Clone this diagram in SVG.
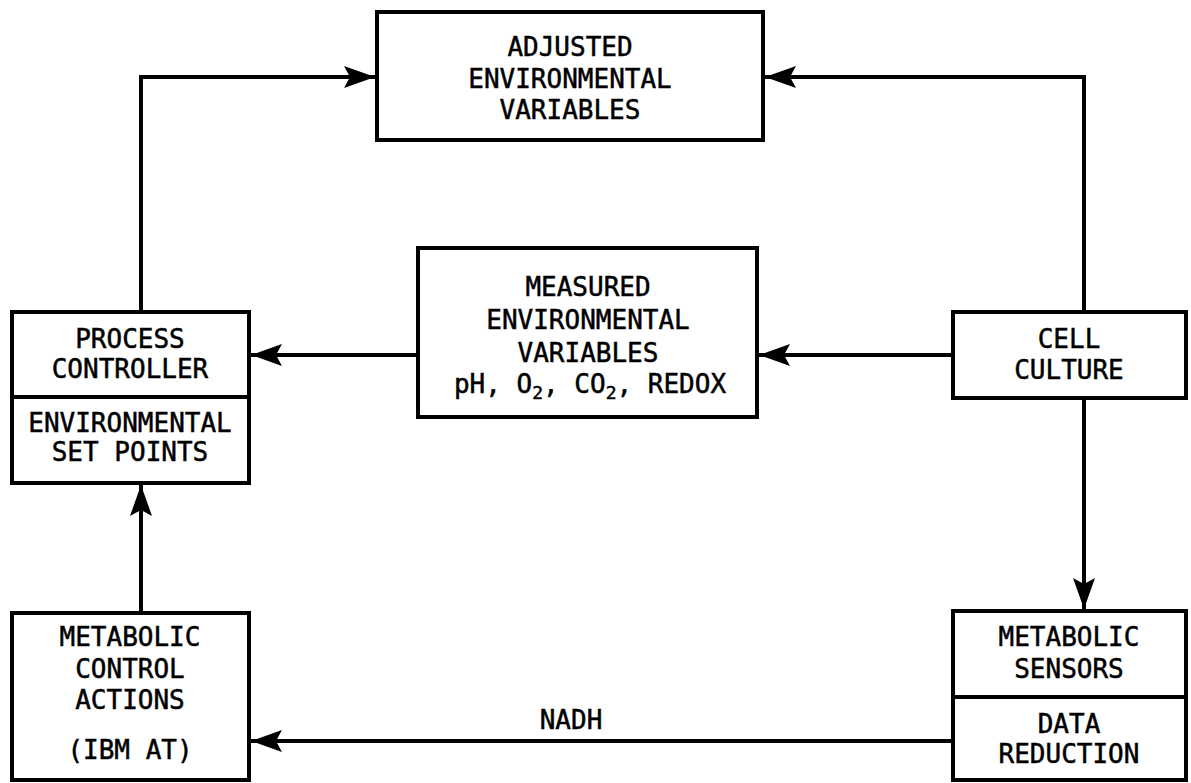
<svg xmlns="http://www.w3.org/2000/svg" width="1191" height="783" viewBox="0 0 1191 783">
<style>
.box{fill:#fff;stroke:#000;stroke-width:4}
.ln{fill:none;stroke:#000;stroke-width:4}
text{font-family:"DejaVu Sans Mono","Liberation Mono",monospace;font-size:26px;fill:#000;stroke:#000;stroke-width:0.5;text-anchor:middle}
.sub{font-size:18px}
</style>
<defs>
<marker id="ah" markerUnits="userSpaceOnUse" markerWidth="32" markerHeight="24" viewBox="-32 -12 32 24" refX="0" refY="0" orient="auto">
<path d="M0,0 L-31,-11 L-25,0 L-31,11 Z" fill="#000"/>
</marker>
</defs>
<g id="connectors">
<path class="ln" d="M141,312 V77 H375" marker-end="url(#ah)"/>
<path class="ln" d="M1084,312 V77 H765" marker-end="url(#ah)"/>
<path class="ln" d="M418,355 H251" marker-end="url(#ah)"/>
<path class="ln" d="M953,355 H759" marker-end="url(#ah)"/>
<path class="ln" d="M1084,398 V609" marker-end="url(#ah)"/>
<path class="ln" d="M141,613 V485" marker-end="url(#ah)"/>
<path class="ln" d="M953,741 H251" marker-end="url(#ah)"/>
<text x="571" y="729">NADH</text>
</g>
<g id="adjusted">
<rect class="box" x="377" y="12" width="386" height="128"/>
<text x="570" y="56">ADJUSTED</text>
<text x="570" y="88">ENVIRONMENTAL</text>
<text x="570" y="119">VARIABLES</text>
</g>
<g id="measured">
<rect class="box" x="418" y="248" width="339" height="169"/>
<text x="588" y="296">MEASURED</text>
<text x="588" y="329">ENVIRONMENTAL</text>
<text x="588" y="362">VARIABLES</text>
<text x="590" y="393">pH, O<tspan class="sub" dy="6">2</tspan><tspan dy="-6">, CO</tspan><tspan class="sub" dy="6">2</tspan><tspan dy="-6">, REDOX</tspan></text>
</g>
<g id="process">
<rect class="box" x="12" y="312" width="237" height="171"/>
<line class="ln" x1="12" y1="397" x2="249" y2="397"/>
<text x="130" y="348">PROCESS</text>
<text x="130" y="378">CONTROLLER</text>
<text x="130" y="432">ENVIRONMENTAL</text>
<text x="130" y="461">SET POINTS</text>
</g>
<g id="cell">
<rect class="box" x="953" y="312" width="233" height="86"/>
<text x="1069" y="348">CELL</text>
<text x="1069" y="379">CULTURE</text>
</g>
<g id="actions">
<rect class="box" x="12" y="613" width="237" height="167"/>
<text x="130" y="646">METABOLIC</text>
<text x="130" y="678">CONTROL</text>
<text x="130" y="709">ACTIONS</text>
<text x="130" y="759">(IBM AT)</text>
</g>
<g id="sensors">
<rect class="box" x="953" y="611" width="233" height="169"/>
<line class="ln" x1="953" y1="697" x2="1186" y2="697"/>
<text x="1069" y="646">METABOLIC</text>
<text x="1069" y="678">SENSORS</text>
<text x="1069" y="733">DATA</text>
<text x="1069" y="763">REDUCTION</text>
</g>
</svg>
